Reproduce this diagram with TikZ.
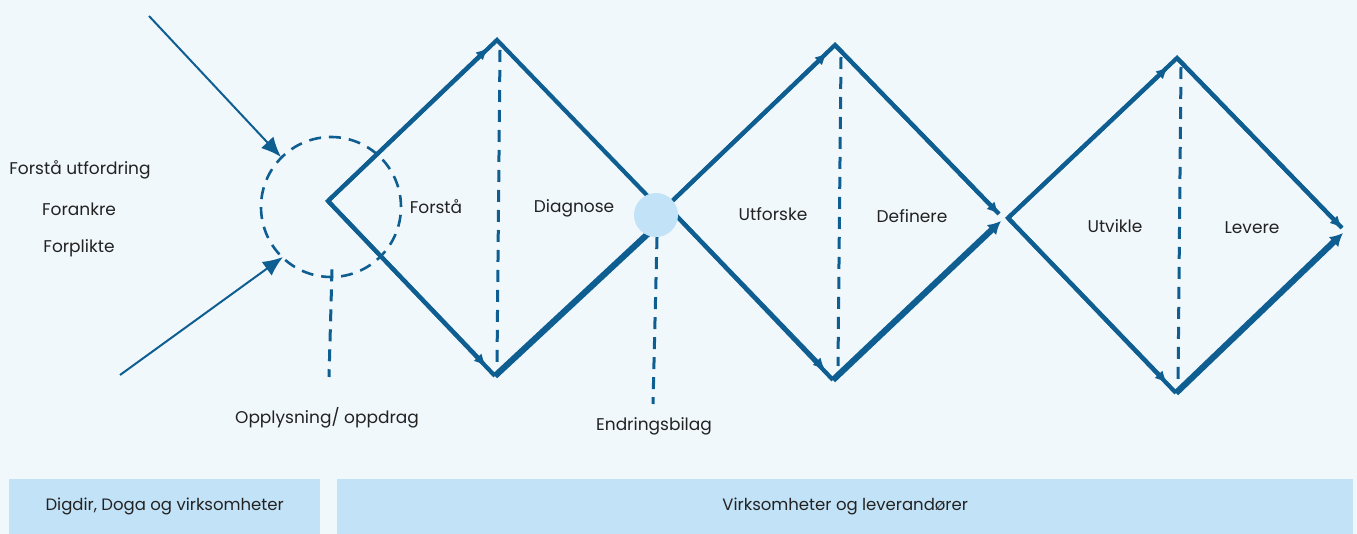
\documentclass[tikz,border=0pt]{standalone}
\usepackage{fontspec}
\setmainfont{Poppins}
\usetikzlibrary{arrows.meta,calc}
\definecolor{bg}{HTML}{F1F8FC}
\definecolor{dblue}{HTML}{0E5E91}
\definecolor{lblue}{HTML}{C2E3F7}
\definecolor{txt}{HTML}{222222}
\tikzset{
  edge/.style={draw=dblue, line width=4.2pt},
  thickedge/.style={draw=dblue, line width=6.2pt},
  smalltip/.style={-{Latex[length=12pt,width=11pt]}},
  bigtip/.style={-{Latex[length=13pt,width=14pt]}},
  guide/.style={draw=dblue, line width=3pt, dash pattern=on 12pt off 8pt},
  feed/.style={draw=dblue, line width=2pt, -{Latex[length=20pt,width=17pt]}},
  lbl/.style={text=txt, font=\fontsize{17}{20}\selectfont, inner sep=0pt},
  boxlbl/.style={fill=lblue, text=txt, font=\fontsize{16.5}{19}\selectfont, inner sep=0pt, anchor=north west, minimum height=55pt},
}
\begin{document}
\begin{tikzpicture}[x=1pt,y=-1pt]
\fill[bg] (0,0) rectangle (1357,534);
\useasboundingbox (0,0) rectangle (1357,534);

% coordinates
\coordinate (L1) at (328,201);
\coordinate (T1) at (497,40);
\coordinate (B1) at (495,376);
\coordinate (X1) at (667,216);
\coordinate (a1t) at (488,48);
\coordinate (a1b) at (486,366);
\coordinate (X2) at (667,206);
\coordinate (T2) at (835,45);
\coordinate (B2) at (833,380);
\coordinate (a2t) at (827,53);
\coordinate (a2b) at (825,370);
\coordinate (R2a) at (999,214);
\coordinate (R2b) at (1001,221);
\coordinate (L3) at (1008,218);
\coordinate (T3) at (1177,58);
\coordinate (B3) at (1176,393);
\coordinate (a3t) at (1168,67);
\coordinate (a3b) at (1167,383);
\coordinate (R3a) at (1342,228);
\coordinate (R3b) at (1343,233);
\coordinate (s1) at (149,16);
\coordinate (s2) at (120,375);
\coordinate (e1) at (281,157);
\coordinate (e2) at (283,257);

% diamond 1
\draw[edge] (X1) -- (T1) -- (L1) -- (B1);
\draw[thickedge] (B1) -- (X1);
\draw[edge,smalltip] (L1) -- (a1t);
\draw[edge,smalltip] (L1) -- (a1b);
% diamond 2
\draw[edge] (R2a) -- (T2) -- (X2) -- (B2);
\draw[edge,smalltip] (T2) -- (R2a);
\draw[edge,smalltip] (X2) -- (a2t);
\draw[edge,smalltip] (X2) -- (a2b);
\draw[thickedge,bigtip] (B2) -- (R2b);
% diamond 3
\draw[edge] (R3a) -- (T3) -- (L3) -- (B3);
\draw[edge,smalltip] (T3) -- (R3a);
\draw[edge,smalltip] (L3) -- (a3t);
\draw[edge,smalltip] (L3) -- (a3b);
\draw[thickedge,bigtip] (B3) -- (R3b);

% inner dashed lines
\draw[guide] (500,50) -- (497,364);
\draw[guide] (841,57) -- (838,366);
\draw[guide] (1181,67) -- (1178,387);

% hub circle
\node[draw=dblue, line width=2.6pt, dash pattern=on 12pt off 8pt, circle, minimum size=140pt, inner sep=0pt] (hub) at (331,207) {};
\draw[guide] ($(hub.south)+(1,-9)$) -- (329,377);

% feeding arrows
\draw[feed] (s1) -- (e1);
\draw[feed] (s2) -- (e2);

% junction circle
\node[fill=lblue, circle, minimum size=44pt, inner sep=0pt] (hub2) at (656,215) {};
\draw[guide] ($(hub2.south)+(1,0)$) -- (653,404);

% labels
\node[lbl] (t1) at (80,170) {Forstå utfordring};
\node[lbl] (t2) at (79,209) {Forankre};
\node[lbl] (t3) at (79,248) {Forplikte};
\node[lbl] (t4) at (436,207) {Forstå};
\node[lbl] (t5) at (574,208) {Diagnose};
\node[lbl] (t6) at (773,214) {Utforske};
\node[lbl] (t7) at (912,216) {Definere};
\node[lbl] (t8) at (1115,226) {Utvikle};
\node[lbl] (t9) at (1252,228) {Levere};
\node[lbl] (t10) at (327,418) {Opplysning/ oppdrag};
\node[lbl] (t11) at (654,426) {Endringsbilag};

% bottom boxes
\node[boxlbl, minimum width=311pt] (box1) at (9,479) {Digdir, Doga og virksomheter};
\node[boxlbl, minimum width=1016pt] (box2) at (337,479) {Virksomheter og leverandører};
\end{tikzpicture}
\end{document}
